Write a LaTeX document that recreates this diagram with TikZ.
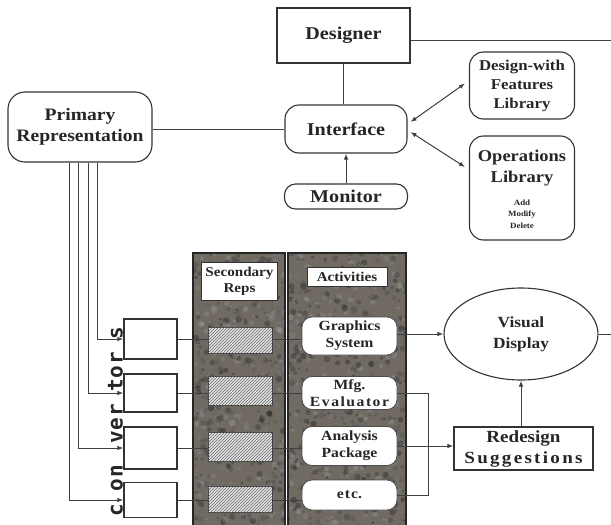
\documentclass[tikz,border=0pt]{standalone}
\usepackage{fontspec}
\setmainfont{Liberation Serif}[FakeStretch=1.12]
\newfontfamily\convfont{DejaVu Sans Mono}
\usetikzlibrary{arrows.meta,shapes.geometric,patterns,calc}

\begin{document}
\begin{tikzpicture}[x=1pt,y=-1pt,
  ink/.style={draw=black!80, line width=1.1pt},
  lab/.style={font=\bfseries\fontsize{18}{21}\selectfont, align=center, text=black!85},
  sq/.style={ink, lab, rectangle, inner sep=0pt},
  rnd/.style={ink, lab, rectangle, rounded corners=14pt, inner sep=0pt},
  wire/.style={draw=black!75, line width=1pt},
  arr/.style={wire, -{Latex[length=6pt,width=4.5pt]}},
  darr/.style={wire, {Latex[length=6pt,width=4.5pt]}-{Latex[length=6pt,width=4.5pt]}},
  panel/.style={draw=black!85, line width=1.3pt, fill={rgb,255:red,112;green,106;blue,98}},
  hatch/.style={draw=black!75, line width=1pt, fill=black!10, minimum width=64pt, inner sep=0pt,
                postaction={pattern=north east lines, pattern color=black!60}},
  act/.style={draw=black!70, line width=0.8pt, fill=white, rounded corners=10pt, lab,
              font=\bfseries\fontsize{14}{17}\selectfont, minimum width=95pt, inner sep=0pt},
  conv/.style={draw=black!80, line width=1.1pt, fill=white, minimum width=53pt, inner sep=0pt},
  head/.style={draw=black!80, line width=1pt, fill=white, inner sep=0pt, lab,
               font=\bfseries\fontsize{13.5}{16}\selectfont}
]
\useasboundingbox (0,0) rectangle (611,525);
\fill[white] (0,0) rectangle (611,525);

% ---- upper part: designer, interface and libraries ----
\node[sq, minimum width=133pt, minimum height=55pt] (des) at (343.5,35.5) {Designer};
\node[rnd, minimum width=105pt, minimum height=67pt, font=\bfseries\fontsize{15}{19}\selectfont] (dwf) at (522,85.5) {Design-with\\Features\\Library};
\node[rnd, minimum width=105pt, minimum height=104pt] (ops) at (522,188) {};
\node[lab, font=\bfseries\fontsize{16.5}{21}\selectfont, inner sep=0pt] (opst) at (522,168) {Operations\\Library};
\node[lab, font=\bfseries\fontsize{8}{11.5}\selectfont, inner sep=0pt] (opss) at (522,214) {Add\\Modify\\Delete};
\node[rnd, minimum width=144pt, minimum height=70pt, rounded corners=17pt, font=\bfseries\fontsize{17.5}{21}\selectfont] (prim) at (80,127) {Primary\\Representation};
\node[rnd, minimum width=122pt, minimum height=48pt] (int) at (346,129) {Interface};
\node[rnd, minimum width=123pt, minimum height=25pt, rounded corners=11pt] (mon) at (346,196.5) {Monitor};

\coordinate (desout) at (611,40);
\draw[wire] (des.east |- desout) -- (desout);
\draw[wire] (des.south) -- (des.south |- int.north);
\draw[wire] (prim.east |- int.west) -- (int.west);
\draw[arr] (mon.north) -- (mon.north |- int.south);
\draw[darr] ([xshift=3pt,yshift=7pt]int.east) -- ([xshift=-4pt,yshift=2pt]dwf.west);
\draw[darr] ([xshift=3pt,yshift=-3pt]int.east) -- ([xshift=-4pt,yshift=21pt]ops.west);

% ---- lower part: panels with a mottled surface ----
\draw[panel] (193,253) rectangle (285,527);
\draw[panel] (288,253) rectangle (406,527);
\pgfmathsetseed{11}
\begin{scope}
  \clip (194,254) rectangle (284,525) (289,254) rectangle (405,525);
  \foreach \i in {1,...,1600}{
    \pgfmathsetmacro{\px}{193+213*rnd}
    \pgfmathsetmacro{\py}{253+272*rnd}
    \pgfmathtruncatemacro{\pg}{35+60*rnd}
    \fill[black!\pg, opacity=0.35] (\px,\py) circle (0.8+2.6*rnd);
  }
\end{scope}

\node[head, minimum width=76pt, minimum height=38pt] (srh) at (239.5,281) {Secondary\\Reps};
\node[head, minimum width=80pt, minimum height=19pt] (ach) at (347,277) {Activities};

% convertors
\node[conv, minimum height=40pt] (c1) at (150.5,339) {};
\node[conv, minimum height=38pt] (c2) at (150.5,393) {};
\node[conv, minimum height=42pt] (c3) at (150.5,448) {};
\node[conv, minimum height=35pt] (c4) at (150.5,500) {};

% secondary representations
\node[hatch, minimum height=26pt] (h1) at (240,340) {};
\node[hatch, minimum height=29pt] (h2) at (240,391) {};
\node[hatch, minimum height=29pt] (h3) at (240,447) {};
\node[hatch, minimum height=26pt] (h4) at (240,499) {};

% activities
\node[act, minimum height=38pt] (a1) at (349.5,336) {Graphics\\System};
\node[act, minimum height=33pt] (a2) at (349.5,393) {Mfg.\\E\kern1.5pt v\kern1.5pt a\kern1.5pt l\kern1.5pt u\kern1.5pt a\kern1.5pt t\kern1.5pt o\kern1.5pt r};
\node[act, minimum height=39pt] (a3) at (349.5,446) {Analysis\\Package};
\node[act, minimum height=30pt] (a4) at (349.5,495) {e\kern1pt t\kern1pt c.};

\node[ink, lab, ellipse, minimum width=154pt, minimum height=92pt, inner sep=0pt,
      font=\bfseries\fontsize{15.5}{21}\selectfont] (vd) at (521,334) {Visual\\Display};
\node[sq, minimum width=139pt, minimum height=43pt, font=\bfseries\fontsize{17}{21}\selectfont] (rs) at (523.5,448.5)
  {Redesign\\S\kern2.3pt u\kern2.3pt g\kern2.3pt g\kern2.3pt e\kern2.3pt s\kern2.3pt t\kern2.3pt i\kern2.3pt o\kern2.3pt n\kern2.3pt s};

\node[rotate=90, inner sep=0pt, text=black!85, font=\convfont\bfseries\fontsize{21}{21}\selectfont] (cvt) at (115.5,422)
  {c\kern13pt o\kern1pt n\kern21pt v\kern1pt e\kern1pt r\kern12pt t\kern1pt o\kern1pt r\kern12pt s};

% connectors of the rows
\foreach \c/\h/\a in {c1/h1/a1, c2/h2/a2, c3/h3/a3, c4/h4/a4}{
  \draw[wire] (\c.east) -- (\c.east -| \h.west);
  \draw[wire] (\h.east |- \c.east) -- (\c.east -| \a.west);
}
\draw[arr] ([xshift=90pt]prim.south west) |- (c1.west);
\draw[arr] ([xshift=81pt]prim.south west) |- (c2.west);
\draw[arr] ([xshift=71pt]prim.south west) |- (c3.west);
\draw[arr] ([xshift=62pt]prim.south west) |- (c4.west);

\coordinate (vdout) at (611,334);
\coordinate (jx) at (428,0);
\draw[arr] (a1.east |- vd.west) -- (vd.west);
\draw[wire] (vd.east) -- (vdout);
\draw[arr] (vd.south |- rs.north) -- (vd.south);
\draw[wire] (a2.east) -- (a2.east -| jx) |- (a4.east);
\draw[arr] (a3.east) -- (a3.east -| rs.west);
\end{tikzpicture}
\end{document}
